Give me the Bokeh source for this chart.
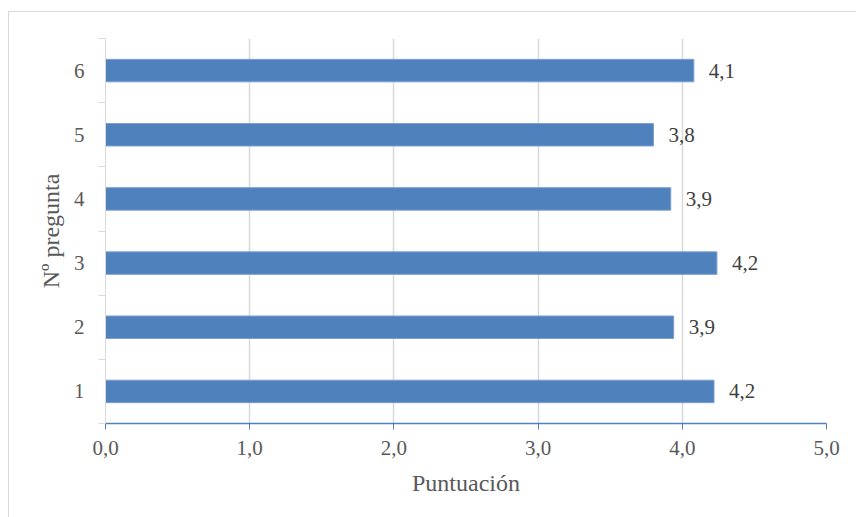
from bokeh.plotting import figure
from bokeh.models import Range1d, FixedTicker, CustomJSTickFormatter, ColumnDataSource
from bokeh.core.properties import value
from bokeh.embed import file_html
from bokeh.resources import INLINE

questions = [1, 2, 3, 4, 5, 6]
scores = [4.22, 3.94, 4.24, 3.92, 3.80, 4.08]
score_labels = [f"{v:.1f}".replace(".", ",") for v in scores]
x_ticks = [0, 1, 2, 3, 4, 5]

FONT = "Liberation Serif"

source = ColumnDataSource(dict(q=questions, s=scores, lab=score_labels))

p = figure(width=848, height=506, output_backend="svg", toolbar_location=None,
           x_range=Range1d(0, 5), y_range=Range1d(0.5, 6.5),
           min_border_left=96, min_border_right=31, min_border_top=26, min_border_bottom=95)
p.margin = (11, 0, 0, 8)
p.styles = {"border-top": "1px solid #d9d9d9", "border-left": "1px solid #d9d9d9"}
p.outline_line_color = None
p.background_fill_color = "white"
p.border_fill_color = "white"

p.hbar(y="q", right="s", left=0, height=0.35, source=source,
       fill_color="#4F81BD", line_color="#7a9fd0", line_width=1)

p.text(x="s", y="q", text="lab", source=source, x_offset=15,
       text_align="left", text_baseline="middle", text_font=value(FONT),
       text_font_size="21px", text_color="#404040")

# x axis
xa = p.xaxis[0]
xa.ticker = FixedTicker(ticks=x_ticks)
xa.formatter = CustomJSTickFormatter(code="return tick.toFixed(1).replace('.', ',');")
xa.axis_line_color = "#4F81BD"
xa.axis_line_width = 1.5
xa.major_tick_line_color = "#4F81BD"
xa.major_tick_in = 0
xa.major_tick_out = 6
xa.minor_tick_line_color = None
xa.major_label_text_font = FONT
xa.major_label_text_font_size = "21px"
xa.major_label_text_color = "#595959"
xa.major_label_standoff = 11
xa.axis_label = "Puntuación"
xa.axis_label_text_font = FONT
xa.axis_label_text_font_size = "24px"
xa.axis_label_text_font_style = "normal"
xa.axis_label_text_color = "#595959"
xa.axis_label_standoff = 12

# y axis
ya = p.yaxis[0]
ya.ticker = FixedTicker(ticks=questions, minor_ticks=[q - 0.5 for q in questions] + [6.5])
ya.axis_line_color = "#d9d9d9"
ya.axis_line_width = 1
ya.major_tick_line_color = None
ya.minor_tick_line_color = "#d9d9d9"
ya.minor_tick_in = 0
ya.minor_tick_out = 7
ya.major_label_text_font = FONT
ya.major_label_text_font_size = "21px"
ya.major_label_text_color = "#595959"
ya.major_label_standoff = 14
ya.axis_label = "Nº pregunta"
ya.axis_label_text_font = FONT
ya.axis_label_text_font_size = "24px"
ya.axis_label_text_font_style = "normal"
ya.axis_label_text_color = "#595959"
ya.axis_label_standoff = 7

p.xgrid.ticker = FixedTicker(ticks=x_ticks[1:])
p.xgrid.grid_line_color = "#d9d9d9"
p.xgrid.grid_line_width = 1.5
p.ygrid.grid_line_color = None

open("out.html", "w").write(file_html(p, INLINE))
